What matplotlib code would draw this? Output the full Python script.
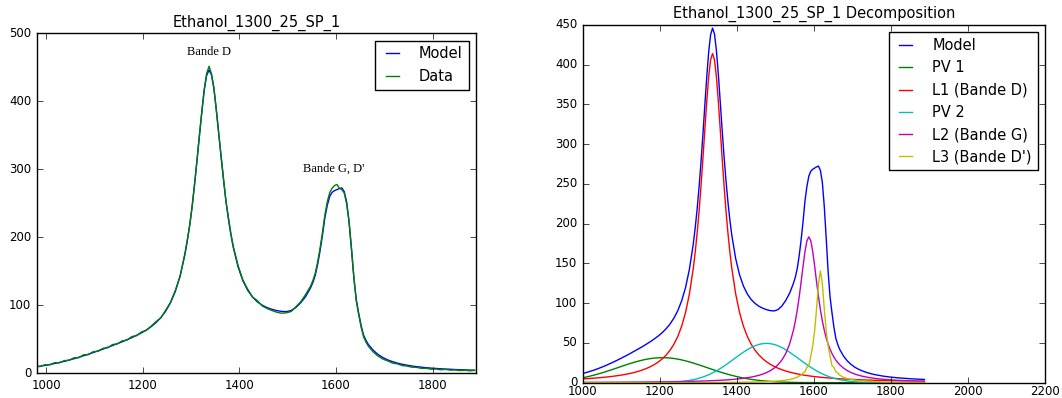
import numpy as np
import matplotlib
matplotlib.use("Agg")
import matplotlib.pyplot as plt

plt.style.use("classic")

'''data read off the spectrum'''
sample = "Ethanol_1300_25_SP_1"
wavenumber = np.arange(977, 1888, 10)      # cm-1, one point every 10

model = [9.0, 10.0, 11.2, 12.5, 14.0, 15.5, 17.2, 19.1, 21.0, 23.2,
         25.4, 27.7, 30.1, 32.6, 35.1, 37.8, 40.5, 43.2, 46.0, 49.0,
         52.1, 55.5, 59.1, 63.3, 68.2, 74.1, 81.5, 90.9, 103.3, 119.9,
         142.9, 174.5, 218.4, 277.3, 349.0, 416.1, 446.0, 418.2, 353.2, 283.7,
         227.1, 185.5, 156.3, 135.9, 121.8, 111.8, 104.8, 99.9, 96.3, 93.8,
         91.9, 90.7, 90.3, 92.0, 96.5, 103.5, 112.5, 125.0, 144.0, 180.0,
         229.0, 260.0, 268.5, 271.5, 267.0, 222.0, 140.0, 88.0, 56.0, 42.0,
         33.5, 27.3, 22.8, 19.3, 16.7, 14.6, 12.9, 11.5, 10.3, 9.4,
         8.5, 7.8, 7.2, 6.7, 6.2, 5.8, 5.5, 5.1, 4.8, 4.6,
         4.3, 4.1]

data = [9.8, 9.6, 12.1, 12.0, 15.2, 14.9, 18.3, 18.6, 22.4, 22.5,
        26.8, 27.0, 31.4, 32.0, 36.3, 37.1, 41.9, 42.8, 47.3, 48.4,
        53.6, 55.0, 60.4, 62.8, 69.0, 75.6, 81.0, 92.4, 103.8, 121.5,
        142.0, 176.0, 217.5, 279.0, 350.2, 418.0, 451.5, 420.5, 352.0, 286.0,
        229.5, 187.0, 158.5, 137.0, 123.5, 112.0, 106.5, 98.8, 95.0, 92.0,
        89.5, 88.0, 88.6, 90.5, 97.5, 105.0, 115.5, 127.5, 147.0, 184.0,
        233.0, 265.5, 276.0, 272.0, 265.0, 224.0, 141.5, 86.0, 53.5, 39.5,
        31.0, 25.0, 20.5, 17.8, 14.6, 13.5, 11.0, 10.2, 8.6, 8.3,
        6.8, 6.9, 5.6, 5.9, 4.8, 5.3, 4.2, 4.6, 3.6, 4.1,
        3.2, 3.8]

pv1 = [4.26, 5.05, 5.95, 6.94, 8.05, 9.25, 10.56, 11.97, 13.45, 15.02,
       16.63, 18.28, 19.94, 21.58, 23.19, 24.73, 26.17, 27.49, 28.66, 29.65,
       30.45, 31.03, 31.38, 31.5, 31.38, 31.03, 30.45, 29.65, 28.66, 27.49,
       26.17, 24.73, 23.19, 21.58, 19.94, 18.28, 16.63, 15.02, 13.45, 11.97,
       10.56, 9.25, 8.05, 6.94, 5.95, 5.05, 4.26, 3.57, 2.96, 2.45,
       2.00, 1.63, 1.31, 1.05, 0.83, 0.66, 0.51, 0.40, 0.31, 0.25,
       0.20, 0.18, 0.16, 0.15, 0.14, 0.13, 0.12, 0.11, 0.10, 0.10,
       0.09, 0.09, 0.08, 0.08, 0.07, 0.07, 0.07, 0.06, 0.06, 0.06,
       0.06, 0.05, 0.05, 0.05, 0.05, 0.05, 0.04, 0.04, 0.04, 0.04,
       0.04, 0.04]

l1 = [4.21, 4.45, 4.72, 5.00, 5.32, 5.66, 6.04, 6.46, 6.92, 7.43,
      8.00, 8.64, 9.36, 10.17, 11.09, 12.14, 13.35, 14.73, 16.35, 18.25,
      20.47, 23.14, 26.35, 30.24, 35.05, 41.07, 48.65, 58.47, 71.38, 88.46,
      111.9, 143.9, 188.1, 247.0, 318.5, 385.1, 414.0, 385.1, 318.5, 247.0,
      188.1, 143.9, 111.9, 88.46, 71.38, 58.47, 48.65, 41.07, 35.05, 30.24,
      26.35, 23.14, 20.47, 18.25, 16.35, 14.73, 13.35, 12.14, 11.09, 10.17,
      9.36, 8.64, 8.00, 7.43, 6.92, 6.46, 6.04, 5.66, 5.32, 5.00,
      4.72, 4.45, 4.21, 3.99, 3.78, 3.59, 3.42, 3.25, 3.10, 2.96,
      2.83, 2.71, 2.59, 2.48, 2.38, 2.28, 2.19, 2.11, 2.03, 1.95,
      1.88, 1.81]

pv2 = [0, 0, 0, 0, 0, 0, 0, 0, 0, 0,
       0, 0, 0, 0, 0, 0.01, 0.01, 0.02, 0.03, 0.05,
       0.08, 0.13, 0.19, 0.28, 0.41, 0.59, 0.84, 1.17, 1.60, 2.17,
       2.91, 3.83, 4.98, 6.39, 8.07, 10.05, 12.35, 14.94, 17.84, 21.00,
       24.37, 27.88, 31.45, 34.98, 38.35, 41.46, 44.20, 46.44, 48.12, 49.15,
       49.5, 49.15, 48.12, 46.44, 44.20, 41.46, 38.35, 34.98, 31.45, 27.88,
       24.37, 21.00, 17.84, 14.94, 12.35, 10.05, 8.07, 6.39, 4.98, 3.83,
       2.91, 2.17, 1.60, 1.17, 0.84, 0.59, 0.41, 0.28, 0.19, 0.13,
       0.08, 0.05, 0.03, 0.02, 0.01, 0, 0, 0, 0, 0,
       0, 0]

l2 = [0.44, 0.46, 0.47, 0.49, 0.51, 0.52, 0.54, 0.56, 0.58, 0.61,
      0.63, 0.66, 0.68, 0.71, 0.74, 0.77, 0.81, 0.85, 0.88, 0.93,
      0.97, 1.02, 1.07, 1.13, 1.19, 1.26, 1.33, 1.41, 1.50, 1.60,
      1.70, 1.82, 1.94, 2.08, 2.24, 2.41, 2.60, 2.82, 3.07, 3.35,
      3.67, 4.04, 4.46, 4.96, 5.54, 6.23, 7.06, 8.06, 9.28, 10.79,
      12.70, 15.15, 18.35, 22.62, 28.47, 36.70, 48.57, 66.06, 91.75, 127.0,
      165.2, 183.5, 165.2, 127.0, 91.75, 66.06, 48.57, 36.70, 28.47, 22.62,
      18.35, 15.15, 12.70, 10.79, 9.28, 8.06, 7.06, 6.23, 5.54, 4.96,
      4.46, 4.04, 3.67, 3.35, 3.07, 2.82, 2.60, 2.41, 2.24, 2.08,
      1.94, 1.82]

l3 = [0.07, 0.07, 0.07, 0.07, 0.08, 0.08, 0.08, 0.08, 0.09, 0.09,
      0.09, 0.10, 0.10, 0.11, 0.11, 0.12, 0.12, 0.13, 0.13, 0.14,
      0.14, 0.15, 0.16, 0.17, 0.17, 0.18, 0.19, 0.20, 0.21, 0.23,
      0.24, 0.25, 0.27, 0.29, 0.31, 0.33, 0.35, 0.38, 0.40, 0.44,
      0.47, 0.52, 0.56, 0.62, 0.68, 0.75, 0.84, 0.94, 1.06, 1.20,
      1.38, 1.59, 1.86, 2.21, 2.65, 3.24, 4.05, 5.20, 6.90, 9.52,
      13.8, 21.3, 46.3, 93.0, 140.5, 93.0, 46.3, 21.3, 13.8, 9.52,
      6.90, 5.20, 4.05, 3.24, 2.65, 2.21, 1.86, 1.59, 1.38, 1.20,
      1.06, 0.94, 0.84, 0.75, 0.68, 0.62, 0.56, 0.52, 0.47, 0.44,
      0.40, 0.38]

# extra readings in between, around the two bands (D: 1292-1382, G/D': 1552-1662)
wavenumber_peaks = np.concatenate([np.arange(1292, 1383, 10), np.arange(1552, 1663, 10)])
model_peaks = [194.8, 246.0, 312.2, 385.0, 437.9, 438.9, 388.1, 317.5, 253.6, 204.7,
               133.0, 160.0, 203.0, 247.0, 266.0, 270.0, 272.5, 252.0, 182.0, 108.0, 70.0, 48.0]
data_peaks = [196.5, 244.8, 314.0, 383.5, 441.0, 440.5, 386.5, 319.5, 252.0, 206.0,
              136.0, 163.5, 207.0, 252.5, 272.0, 277.5, 270.0, 249.0, 184.5, 106.0, 67.5, 45.5]
pv1_peaks = [23.97, 22.39, 20.76, 19.11, 17.45, 15.82, 14.23, 12.70, 11.25, 9.90,
             0.35, 0.28, 0.22, 0.19, 0.17, 0.15, 0.14, 0.13, 0.12, 0.11, 0.10, 0.10]
l1_peaks = [164.3, 215.7, 281.8, 354.2, 406.4, 406.4, 354.2, 281.8, 215.7, 164.3,
            11.60, 10.62, 9.75, 8.99, 8.31, 7.71, 7.17, 6.68, 6.24, 5.84, 5.48, 5.16]
pv2_peaks = [4.38, 5.65, 7.19, 9.02, 11.16, 13.61, 16.36, 19.39, 22.67, 26.12,
             33.23, 29.67, 26.12, 22.67, 19.39, 16.36, 13.61, 11.16, 9.02, 7.19, 5.65, 4.38]
l2_peaks = [1.88, 2.01, 2.16, 2.32, 2.51, 2.71, 2.94, 3.21, 3.50, 3.85,
            77.72, 108.3, 146.8, 178.5, 178.5, 146.8, 108.3, 77.72, 56.46, 42.08, 32.23, 25.31]
l3_peaks = [0.26, 0.28, 0.30, 0.32, 0.34, 0.36, 0.39, 0.42, 0.46, 0.49,
            6.23, 8.55, 12.40, 19.38, 33.54, 65.41, 124.6, 124.6, 65.41, 33.54, 19.38, 12.40]

bands = [("Bande D", 1337, 473), ("Bande G, D'", 1596, 301)]


def merged(coarse, fine):
    # put the main readings and the extra peak readings in wavenumber order
    x = np.concatenate([wavenumber, wavenumber_peaks])
    y = np.concatenate([coarse, fine])
    order = np.argsort(x, kind="stable")
    return x[order], y[order]


components = [("PV 1", pv1, pv1_peaks, "g"),
              ("L1 (Bande D)", l1, l1_peaks, "r"),
              ("PV 2", pv2, pv2_peaks, "c"),
              ("L2 (Bande G)", l2, l2_peaks, "m"),
              ("L3 (Bande D')", l3, l3_peaks, "y")]


'''figure'''
fig = plt.figure(figsize=(10.62, 3.98), dpi=100, facecolor="white")
leg_kw = dict(loc="upper right", fontsize=10.5, handlelength=1.5,
              handletextpad=1.1, borderpad=0.4, labelspacing=0.5)

# fit vs data
ax1 = fig.add_axes([0.0346, 0.0628, 0.4136, 0.8535])
ax1.plot(*merged(model, model_peaks), "b-", lw=1, label="Model")
ax1.plot(*merged(data, data_peaks), "g-", lw=1, label="Data")
for txt, xt, yt in bands:
    ax1.text(xt, yt, txt, ha="center", va="center", fontsize=9,
             family="Liberation Serif")
ax1.set_xlim(980, 1890)
ax1.set_ylim(0, 500)
ax1.set_xticks([1000, 1200, 1400, 1600, 1800])
ax1.set_yticks([0, 100, 200, 300, 400, 500])
ax1.set_title(sample, fontsize=10.5)
ax1.legend(**leg_kw)

# decomposition in peaks
ax2 = fig.add_axes([0.5487, 0.0384, 0.4353, 0.8988])
ax2.plot(*merged(model, model_peaks), "b-", lw=1, label="Model")
for name, vals, vals_pk, col in components:
    ax2.plot(*merged(vals, vals_pk), "-", color=col, lw=1, label=name)
ax2.set_xlim(1000, 2200)
ax2.set_ylim(0, 450)
ax2.set_xticks(range(1000, 2201, 200))
ax2.set_yticks(range(0, 451, 50))
ax2.set_title(sample + " Decomposition", fontsize=10.5)
ax2.legend(**leg_kw)

for ax in (ax1, ax2):
    ax.tick_params(labelsize=8.5, direction="in", length=4)
ax2.tick_params(axis="x", pad=1.5)

fig.savefig("out.png", dpi=100, facecolor="white")
